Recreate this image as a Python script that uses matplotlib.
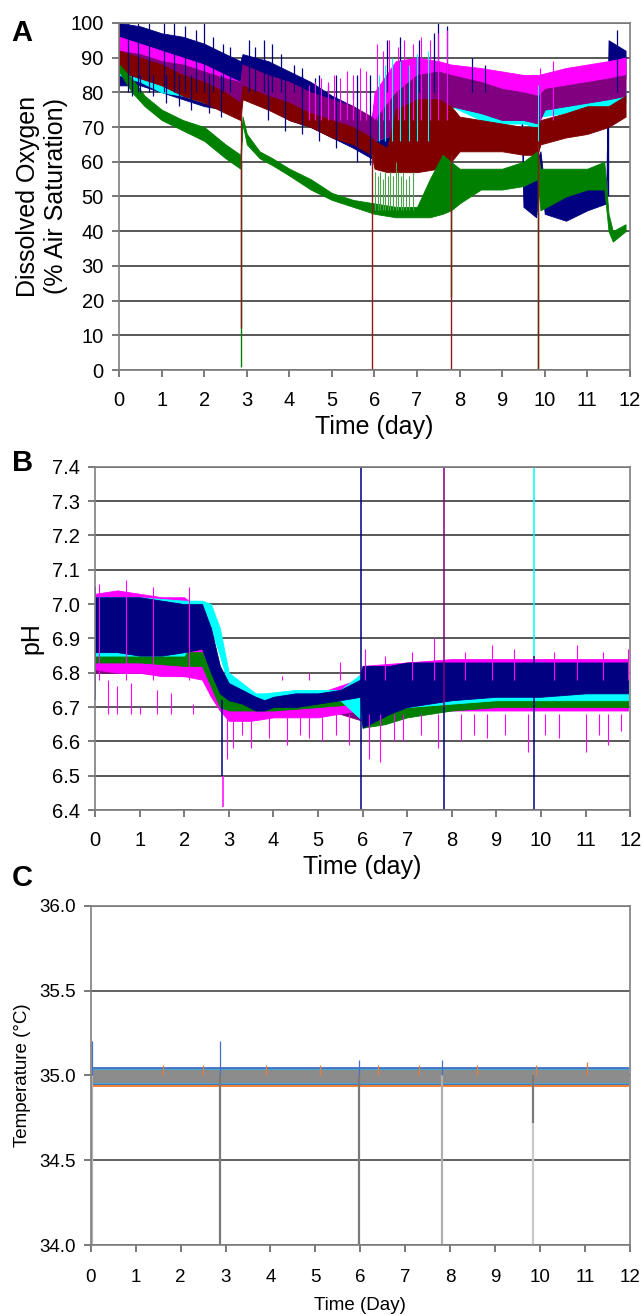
import matplotlib
matplotlib.use("Agg")
import matplotlib.pyplot as plt

plt.rcParams['font.family'] = ['Liberation Sans', 'DejaVu Sans']

# ---------------- Panel A : dissolved oxygen (% air saturation) ----------------
# each series kept as a band: knot times, lower and upper envelope
navy_t = [0, 0.5, 1.0, 1.5, 2.0, 2.5, 2.85, 2.9, 3.5, 4.0, 4.5, 5.0, 5.5, 5.93, 6.0, 6.5, 7.0, 7.5, 7.8, 8.5, 9.0, 9.45, 9.5, 9.8, 9.9, 10.0, 10.5, 11.0, 11.45, 11.5, 11.9]
navy_lo = [82, 82, 80, 78, 76, 75, 74, 80, 76, 72, 70, 67, 64, 61, 62, 65, 68, 72, 76, 77, 76, 75, 47, 44, 58, 45, 43, 46, 48, 86, 85]
navy_hi = [100, 99, 97, 96, 94, 91, 89, 91, 89, 86, 83, 79, 76, 72, 78, 86, 88, 87, 85, 84, 82, 81, 56, 60, 63, 52, 52, 54, 55, 95, 92]

cyan_t = [0, 0.5, 1.0, 1.5, 2.0, 2.5, 2.85, 2.9, 3.5, 4.0, 4.5, 5.0, 5.5, 5.93, 6.0, 6.5, 7.0, 7.5, 7.8, 8.5, 9.0, 9.5, 9.83, 9.87, 10.5, 11.0, 11.5, 11.9]
cyan_lo = [85, 83, 80, 79, 77, 76, 76, 80, 78, 75, 73, 70, 67, 65, 66, 68, 72, 76, 76, 72, 71, 71, 70, 73, 74, 75, 76, 77]
cyan_hi = [90, 88, 86, 84, 83, 81, 80, 84, 81, 80, 77, 75, 72, 70, 75, 82, 85, 85, 84, 77, 77, 77, 76, 77, 79, 80, 80, 81]

magenta_t = [0, 0.5, 1.0, 1.5, 2.0, 2.5, 2.85, 2.9, 3.5, 4.0, 4.5, 5.0, 5.5, 5.93, 6.0, 6.5, 7.0, 7.5, 7.8, 8.5, 9.0, 9.5, 9.85, 10.5, 11.0, 11.5, 11.9]
magenta_lo = [89, 88, 86, 84, 82, 80, 78, 83, 79, 77, 74, 71, 69, 66, 70, 78, 83, 84, 82, 80, 79, 78, 78, 80, 82, 83, 84]
magenta_hi = [96, 94, 92, 90, 88, 85, 83, 87, 83, 81, 78, 76, 73, 71, 80, 89, 90, 89, 88, 87, 86, 85, 85, 87, 88, 89, 90]

purple_t = [0, 0.5, 1.0, 1.5, 2.0, 2.5, 2.85, 2.9, 3.5, 4.0, 4.5, 5.0, 5.5, 5.93, 6.0, 6.5, 7.0, 7.5, 7.8, 8.5, 9.0, 9.5, 9.85, 10.0, 10.5, 11.0, 11.5, 11.9]
purple_lo = [86, 85, 83, 81, 79, 77, 76, 82, 79, 77, 74, 72, 70, 67, 66, 68, 72, 75, 76, 74, 72, 72, 71, 75, 76, 77, 78, 79]
purple_hi = [92, 91, 89, 88, 86, 84, 83, 88, 85, 83, 80, 78, 76, 73, 72, 80, 85, 86, 85, 83, 81, 80, 79, 81, 82, 83, 84, 85]

darkred_t = [0, 0.5, 1.0, 1.5, 2.0, 2.5, 2.85, 2.9, 3.5, 4.0, 4.5, 5.0, 5.5, 5.93, 6.0, 6.3, 6.5, 7.0, 7.5, 7.8, 8.0, 8.5, 9.0, 9.5, 9.83, 9.9, 10.5, 11.0, 11.5, 11.9]
darkred_lo = [86, 84, 82, 79, 77, 74, 72, 78, 75, 72, 70, 67, 65, 62, 58, 57, 57, 57, 58, 60, 63, 63, 63, 62, 62, 65, 67, 68, 70, 73]
darkred_hi = [92, 90, 88, 85, 83, 80, 77, 82, 79, 77, 74, 72, 70, 67, 66, 64, 75, 78, 78, 76, 73, 72, 71, 70, 70, 72, 74, 76, 76, 79]

green_t = [0, 0.3, 0.6, 1.0, 1.5, 2.0, 2.5, 2.85, 2.9, 3.0, 3.3, 3.6, 4.0, 4.5, 5.0, 5.5, 6.0, 6.5, 7.0, 7.3, 7.6, 7.8, 8.0, 8.5, 9.0, 9.5, 9.83, 9.9, 10.5, 11.0, 11.4, 11.5, 11.6, 11.9]
green_lo = [86, 80, 76, 72, 69, 66, 61, 58, 71, 65, 61, 59, 56, 52, 49, 47, 45, 44, 44, 44, 45, 46, 48, 52, 52, 53, 55, 46, 50, 52, 52, 40, 37, 40]
green_hi = [88, 84, 79, 75, 72, 70, 65, 62, 73, 68, 63, 61, 58, 55, 51, 49, 48, 47, 47, 55, 62, 60, 58, 58, 58, 60, 63, 58, 58, 58, 60, 45, 40, 42]

# noise spikes: (time, top) above a band, (time, bottom) below it
navy_up_t = [0.2, 0.45, 0.7, 1.05, 1.3, 1.55, 1.8, 2.0, 2.2, 2.45, 2.6, 3.05, 3.2, 3.4, 3.6, 3.8, 4.1, 4.3, 4.6, 4.9, 5.2, 5.5, 6.3, 6.6, 7.05, 7.4, 7.5, 7.7, 8.3, 8.6, 11.7]
navy_up_top = [100, 100, 100, 100, 100, 99, 98, 100, 96, 94, 93, 95, 93, 95, 94, 91, 88, 87, 84, 82, 80, 78, 95, 96, 95, 97, 100, 99, 90, 88, 98]
navy_dn_t = [0.3, 0.5, 0.8, 1.1, 1.4, 1.7, 2.1, 2.4, 3.5, 3.9, 4.3, 4.7, 5.1, 5.6, 5.9]
navy_dn_bot = [79, 80, 79, 77, 76, 75, 74, 73, 72, 69, 68, 66, 64, 60, 59]
magenta_spk_t = [4.45, 4.6, 4.75, 4.9, 5.05, 5.2, 5.35, 5.5, 5.65, 5.8, 6.05, 6.2, 6.35, 6.55, 6.7, 6.9, 7.1, 7.3, 7.5, 7.7, 9.9, 10.2]
magenta_spk_top = [82, 83, 84, 83, 85, 84, 86, 85, 87, 86, 94, 92, 95, 93, 95, 94, 96, 95, 97, 98, 87, 89]
cyan_spk_t = [6.1, 6.25, 6.4, 6.6, 6.8, 7.0, 7.25, 9.85]
cyan_spk_top = [85, 88, 90, 89, 88, 91, 92, 82]
green_spk_t = [6.02, 6.08, 6.13, 6.19, 6.25, 6.31, 6.37, 6.44, 6.5, 6.56, 6.62, 6.68, 6.75, 6.82, 6.9]
green_spk_top = [57, 56, 57, 55, 57, 56, 57, 56, 60, 57, 56, 57, 55, 56, 57]

# probe/sampling drop-outs: time, bottom, top
do_drop_t = [2.87, 5.95, 7.8, 9.85]
do_drop_red_lo = [12, 0, 0, 0]
do_drop_red_hi = [75, 62, 62, 65]
do_drop_green_lo = [1, 45, 21, 0]
do_drop_green_hi = [60, 48, 46, 55]

# ---------------- Panel B : pH ----------------
ph_navy_t = [0, 0.5, 1.0, 1.5, 2.0, 2.4, 2.6, 2.8, 3.0, 3.3, 3.6, 3.8, 4.0, 4.5, 5.0, 5.5, 5.95, 6.0, 6.3, 6.6, 7.0, 8.0, 9.0, 10.0, 11.0, 11.95]
ph_navy_lo = [6.86, 6.86, 6.85, 6.85, 6.86, 6.87, 6.80, 6.74, 6.72, 6.71, 6.69, 6.69, 6.70, 6.70, 6.71, 6.72, 6.73, 6.64, 6.66, 6.68, 6.70, 6.72, 6.73, 6.73, 6.74, 6.74]
ph_navy_hi = [7.02, 7.02, 7.02, 7.01, 7.00, 7.00, 6.93, 6.82, 6.77, 6.75, 6.73, 6.72, 6.73, 6.74, 6.74, 6.75, 6.78, 6.82, 6.82, 6.82, 6.83, 6.83, 6.83, 6.83, 6.83, 6.83]

ph_cyan_t = [0, 1.0, 2.0, 2.4, 2.6, 2.8, 3.0, 3.3, 3.6, 3.8, 4.5, 5.5, 6.0, 7.0, 8.0, 9.0, 10.0, 11.0, 11.95]
ph_cyan_lo = [6.85, 6.85, 6.85, 6.95, 6.93, 6.85, 6.76, 6.74, 6.71, 6.72, 6.72, 6.72, 6.66, 6.70, 6.71, 6.72, 6.72, 6.72, 6.72]
ph_cyan_hi = [7.02, 7.02, 7.01, 7.01, 7.00, 6.93, 6.80, 6.77, 6.74, 6.74, 6.75, 6.75, 6.80, 6.82, 6.82, 6.82, 6.83, 6.82, 6.82]

ph_magenta_t = [0, 0.5, 1.0, 1.5, 2.0, 2.4, 2.6, 2.8, 3.0, 3.5, 4.0, 5.0, 5.9, 6.0, 7.0, 8.0, 9.0, 10.0, 11.0, 11.95]
ph_magenta_lo = [6.81, 6.80, 6.80, 6.79, 6.79, 6.78, 6.73, 6.69, 6.66, 6.66, 6.67, 6.67, 6.69, 6.66, 6.68, 6.69, 6.69, 6.69, 6.69, 6.69]
ph_magenta_hi = [7.03, 7.04, 7.03, 7.02, 7.02, 6.98, 6.85, 6.76, 6.72, 6.70, 6.72, 6.74, 6.78, 6.82, 6.83, 6.84, 6.84, 6.84, 6.84, 6.84]

ph_purple_t = [0, 1, 2, 2.4, 2.6, 2.8, 3.0, 3.5, 4.0, 5.0, 6.0, 6.5, 7.0, 8.0, 9.0, 10.0, 11.0, 11.95]
ph_purple_lo = [6.80, 6.80, 6.79, 6.80, 6.78, 6.70, 6.69, 6.68, 6.69, 6.70, 6.66, 6.67, 6.68, 6.70, 6.71, 6.72, 6.72, 6.73]
ph_purple_hi = [6.98, 6.98, 6.97, 6.97, 6.90, 6.78, 6.74, 6.72, 6.72, 6.73, 6.76, 6.76, 6.76, 6.77, 6.77, 6.78, 6.78, 6.78]

ph_green_t = [0, 1, 2, 2.4, 2.6, 2.8, 3.0, 4.0, 5.0, 5.95, 6.0, 6.5, 7.0, 8.0, 9.0, 10.0, 11.0, 11.95]
ph_green_lo = [6.83, 6.83, 6.82, 6.82, 6.76, 6.70, 6.69, 6.69, 6.70, 6.71, 6.64, 6.65, 6.67, 6.69, 6.70, 6.70, 6.70, 6.70]
ph_green_hi = [6.87, 6.87, 6.86, 6.86, 6.80, 6.74, 6.72, 6.72, 6.72, 6.73, 6.68, 6.69, 6.71, 6.72, 6.73, 6.73, 6.73, 6.73]

ph_mag_dn_t = [0.3, 0.5, 0.8, 1.0, 1.4, 1.7, 2.2, 2.95, 3.1, 3.3, 3.5, 3.9, 4.3, 4.6, 4.8, 5.1, 5.4, 5.7, 6.15, 6.4, 6.7, 6.9, 7.3, 7.7, 8.2, 8.5, 8.8, 9.2, 9.7, 10.1, 10.4, 11.0, 11.3, 11.5, 11.8]
ph_mag_dn_v = [6.78, 6.76, 6.77, 6.70, 6.75, 6.74, 6.71, 6.55, 6.58, 6.62, 6.58, 6.61, 6.59, 6.62, 6.61, 6.60, 6.62, 6.59, 6.55, 6.54, 6.60, 6.60, 6.62, 6.58, 6.60, 6.62, 6.61, 6.62, 6.57, 6.62, 6.61, 6.57, 6.62, 6.59, 6.63]
ph_mag_up_t = [0.1, 0.7, 1.3, 2.1, 4.2, 4.8, 5.5, 6.05, 6.5, 7.1, 7.6, 8.3, 8.9, 9.4, 10.3, 10.8, 11.4, 11.95]
ph_mag_up_v = [7.06, 7.07, 7.05, 7.05, 6.79, 6.80, 6.83, 6.87, 6.85, 6.86, 6.90, 6.86, 6.88, 6.87, 6.86, 6.88, 6.86, 6.87]

# vertical events: time, bottom, top, colour
ph_event_t = [0.0, 2.85, 2.87, 5.97, 7.83, 7.83, 9.85, 9.85]
ph_event_lo = [6.72, 6.50, 6.41, 6.40, 6.70, 6.40, 6.85, 6.40]
ph_event_hi = [7.05, 6.72, 6.50, 7.40, 7.40, 6.70, 7.40, 6.85]
ph_event_c = ['#000080', '#000080', '#FF00FF', '#000080', '#800080', '#000080', '#00FFFF', '#000080']

# ---------------- Panel C : temperature ----------------
temp_t = [0.02, 3.0, 6.0, 9.0, 11.95]
temp_orange_lo = [34.94, 34.94, 34.94, 34.94, 34.94]
temp_orange_hi = [35.04, 35.04, 35.04, 35.04, 35.04]
temp_blue_lo = [34.95, 34.95, 34.95, 34.95, 34.95]
temp_blue_hi = [35.05, 35.05, 35.05, 35.05, 35.05]
temp_teal_lo = [34.955, 34.955, 34.955, 34.955, 34.955]
temp_teal_hi = [35.04, 35.04, 35.04, 35.04, 35.04]
temp_gray_lo = [34.962, 34.962, 34.962, 34.962, 34.962]
temp_gray_hi = [35.032, 35.032, 35.032, 35.032, 35.032]
temp_spk_t = [0.02, 2.88, 5.97, 7.82]
temp_spk_v = [35.20, 35.20, 35.09, 35.09]
temp_or_spk_t = [1.6, 2.5, 3.9, 5.1, 6.4, 7.3, 8.6, 9.9, 11.05]
temp_or_spk_v = [35.06, 35.06, 35.06, 35.06, 35.06, 35.06, 35.06, 35.06, 35.08]
temp_event_t = [0.02, 2.87, 5.97, 7.82, 9.85, 9.85]
temp_event_lo = [34.0, 34.0, 34.0, 34.0, 34.72, 34.0]
temp_event_hi = [35.0, 35.0, 35.0, 35.0, 35.0, 34.72]
temp_event_c = ['#b0b0b0', '#7a7a7a', '#7a7a7a', '#b0b0b0', '#7a7a7a', '#c8c8c8']


def band(ax, t, lo, hi, color):
    ax.fill_between(t, lo, hi, color=color, lw=0.6, edgecolor=color)


def style(ax, ylim, yticks, fs_tick, xlabel, ylabel, fs_label):
    ax.set_xlim(0, 12)
    ax.set_ylim(*ylim)
    ax.set_xticks(range(13))
    ax.set_yticks(yticks)
    ax.set_axisbelow(True)
    ax.grid(axis='y', color='#2a2a2a', lw=1.1)
    for s in ax.spines.values():
        s.set_color('#7f7f7f')
        s.set_linewidth(1.2)
    ax.tick_params(direction='out', length=5, width=1.1, color='#555555', labelsize=fs_tick)
    ax.tick_params(axis='x', pad=10)
    ax.tick_params(axis='y', pad=6)
    ax.set_xlabel(xlabel, fontsize=fs_label, labelpad=4)
    ax.set_ylabel(ylabel, fontsize=fs_label, labelpad=6)


fig = plt.figure(figsize=(6.44, 13.15), dpi=100)

# ---- A ----
axA = fig.add_axes([0.185, 0.7186, 0.793, 0.264])
band(axA, navy_t, navy_lo, navy_hi, '#000080')
axA.vlines(navy_up_t, 80, navy_up_top, color='#000080', lw=0.9)
axA.vlines(navy_dn_t, navy_dn_bot, 85, color='#000080', lw=0.9)
band(axA, cyan_t, cyan_lo, cyan_hi, '#00FFFF')
axA.vlines(cyan_spk_t, 66, cyan_spk_top, color='#00FFFF', lw=0.8)
band(axA, magenta_t, magenta_lo, magenta_hi, '#FF00FF')
axA.vlines(magenta_spk_t, 72, magenta_spk_top, color='#FF00FF', lw=0.8)
band(axA, purple_t, purple_lo, purple_hi, '#800080')
band(axA, darkred_t, darkred_lo, darkred_hi, '#800000')
axA.vlines(green_spk_t, 46, green_spk_top, color='#4da64d', lw=0.8)
band(axA, green_t, green_lo, green_hi, '#008000')
axA.vlines(do_drop_t, do_drop_green_lo, do_drop_green_hi, color='#008000', lw=1.0)
axA.vlines(do_drop_t, do_drop_red_lo, do_drop_red_hi, color='#8b1a1a', lw=1.0)
axA.vlines([11.48], 50, 70, color='#000080', lw=1.0)
axA.vlines([0.0], 80, 100, color='#800000', lw=1.2)
style(axA, (0, 100), range(0, 101, 10), 14.5, 'Time (day)',
      'Dissolved Oxygen\n(% Air Saturation)', 18)
axA.yaxis.set_label_coords(-0.1, 0.5)
fig.text(0.018, 0.975, 'A', fontsize=21, fontweight='bold', va='center')

# ---- B ----
axB = fig.add_axes([0.1475, 0.384, 0.831, 0.261])
band(axB, ph_purple_t, ph_purple_lo, ph_purple_hi, '#800080')
band(axB, ph_magenta_t, ph_magenta_lo, ph_magenta_hi, '#FF00FF')
axB.vlines(ph_mag_dn_t, 6.68, ph_mag_dn_v, color='#FF00FF', lw=0.8)
axB.vlines(ph_mag_up_t, 6.78, ph_mag_up_v, color='#FF00FF', lw=0.8)
band(axB, ph_green_t, ph_green_lo, ph_green_hi, '#008000')
band(axB, ph_cyan_t, ph_cyan_lo, ph_cyan_hi, '#00FFFF')
band(axB, ph_navy_t, ph_navy_lo, ph_navy_hi, '#000080')
axB.vlines(ph_event_t, ph_event_lo, ph_event_hi, colors=ph_event_c, lw=1.1)
style(axB, (6.4, 7.4), [6.4 + 0.1 * i for i in range(11)], 14.5, 'Time (day)', 'pH', 18)
axB.set_yticklabels(['%.1f' % (6.4 + 0.1 * i) for i in range(11)])
fig.text(0.018, 0.648, 'B', fontsize=21, fontweight='bold', va='center')

# ---- C ----
axC = fig.add_axes([0.141, 0.0532, 0.837, 0.258])
axC.vlines(temp_event_t, temp_event_lo, temp_event_hi, colors=temp_event_c, lw=1.6)
band(axC, temp_t, temp_orange_lo, temp_orange_hi, '#ED7D31')
axC.vlines(temp_or_spk_t, 35.0, temp_or_spk_v, color='#ED7D31', lw=0.9)
band(axC, temp_t, temp_blue_lo, temp_blue_hi, '#4472C4')
band(axC, temp_t, temp_teal_lo, temp_teal_hi, '#4BACC6')
band(axC, temp_t, temp_gray_lo, temp_gray_hi, '#8c8c8c')
axC.vlines(temp_spk_t, 35.0, temp_spk_v, color='#4472C4', lw=0.9)
style(axC, (34.0, 36.0), [34.0, 34.5, 35.0, 35.5, 36.0], 13.5, 'Time (Day)',
      'Temperature (°C)', 13.5)
axC.set_yticklabels(['34.0', '34.5', '35.0', '35.5', '36.0'])
axC.grid(axis='y', color='#555555', lw=1.3)
axC.tick_params(axis='x', pad=12)
axC.xaxis.labelpad = 8
fig.text(0.018, 0.332, 'C', fontsize=21, fontweight='bold', va='center')

fig.savefig('out.png', dpi=100)
